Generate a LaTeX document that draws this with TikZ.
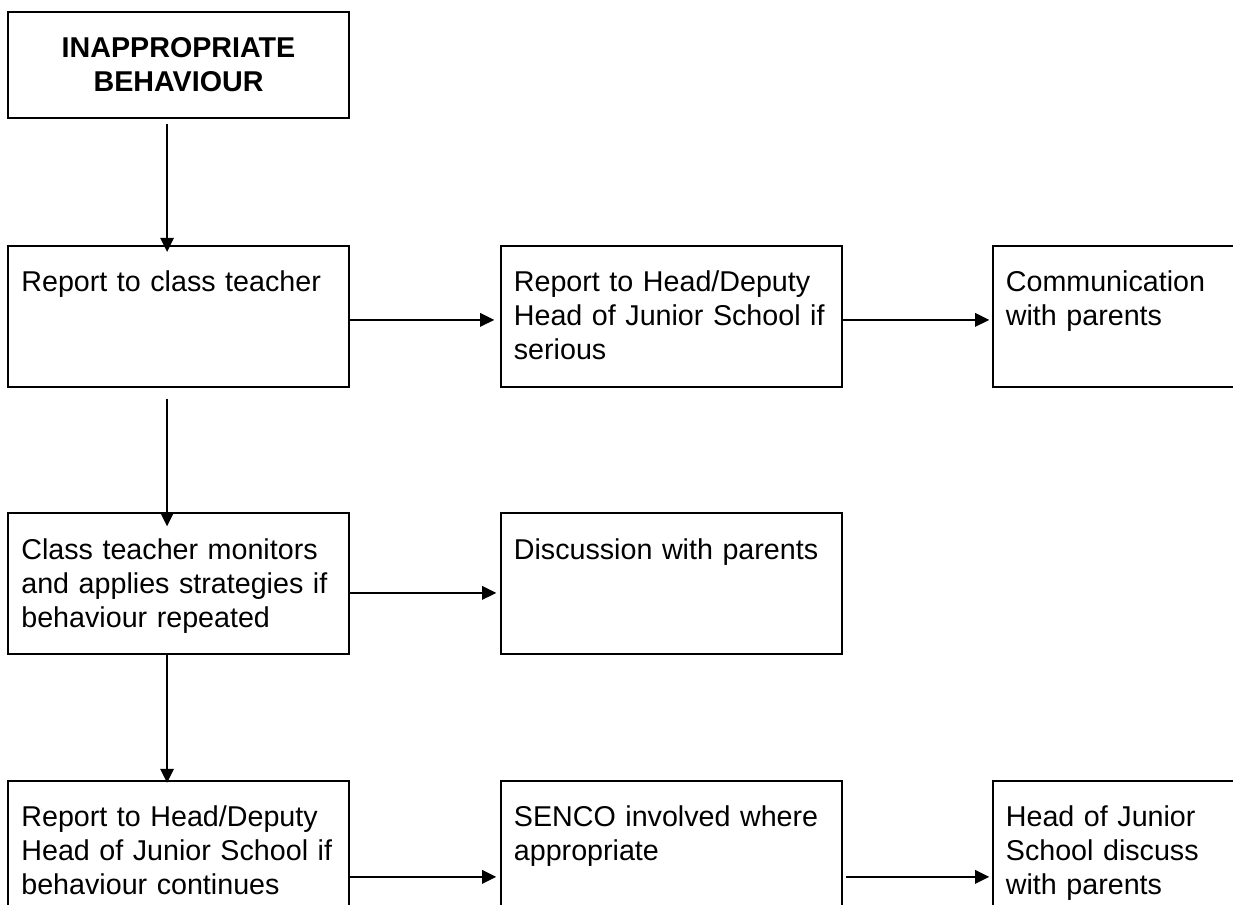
\documentclass[tikz,border=0pt]{standalone}
\usepackage{fontspec}
\setmainfont{Liberation Sans}
\usepackage{tikz}
\usetikzlibrary{arrows.meta,positioning}
\tikzset{%
    >={Triangle[length=10.5pt,width=10pt]},
    base/.style = {
        rectangle, draw=black, line width=1.5pt,
        font=\fontsize{21.5pt}{25.5pt}\selectfont
    },
    heading/.style = {
        base, minimum width=255.75pt, minimum height=79.5pt,
        text width=240pt, align=center,
        font=\fontsize{21.5pt}{25.5pt}\selectfont\bfseries
    },
    action/.style = {
        base, text width=235.75pt, align=left, inner xsep=10pt,
        inner ysep=18.5pt, text height=16pt, text depth=52.75pt
    },
}
\begin{document}
\begin{tikzpicture}[
        node distance=200.6pt,
        every node/.style={fill=white},
        line width=1.5pt
    ]
        \useasboundingbox (0,0) rectangle (924.75pt,-678.75pt);
        % Nodes position
        \node (start)         [heading] at (133.9pt,-48.75pt)
                                {INAPPROPRIATE\\BEHAVIOUR};
        \node (classTeacher)  [action, below of=start, yshift=12pt]
                                {Report to class teacher};
        \node (headSerious)   [action, right of=classTeacher, xshift=168.8pt]
                                {Report to Head/Deputy\\Head of Junior School if\\serious};
        \node (communication) [action, right of=headSerious, xshift=168.4pt]
                                {Communication\\with parents};

        \node (monitor)       [action, below of=classTeacher]
                                {Class teacher monitors\\and applies strategies if\\behaviour repeated};
        \node (discussion)    [action, right of=monitor, xshift=168.8pt]
                                {Discussion with parents};

        \node (headContinues) [action, below of=monitor]
                                {Report to Head/Deputy\\Head of Junior School if\\behaviour continues};
        \node (senco)         [action, right of=headContinues, xshift=168.8pt]
                                {SENCO involved where\\appropriate};
        \node (headDiscuss)   [action, right of=senco, xshift=168.4pt]
                                {Head of Junior\\School discuss\\with parents};
        % Arrow specification
        \draw[->, shorten <=3.75pt, shorten >=-5.25pt]
            ([xshift=-8.6pt]start.south) -- ([xshift=-8.6pt]classTeacher.north);
        \draw[->, shorten <=8.25pt, shorten >=-10.5pt]
            ([xshift=-8.6pt]classTeacher.south) -- ([xshift=-8.6pt]monitor.north);
        \draw[->, shorten >=-2.25pt]
            ([xshift=-8.6pt]monitor.south) -- ([xshift=-8.6pt]headContinues.north);
        \draw[->, shorten >=4pt]
            ([yshift=-2.6pt]classTeacher.east) -- ([yshift=-2.6pt]headSerious.west);
        \draw[->, shorten >=1.75pt]
            ([yshift=-2.6pt]headSerious.east) -- ([yshift=-2.6pt]communication.west);
        \draw[->, shorten >=2.5pt]
            ([yshift=-6.75pt]monitor.east) -- ([yshift=-6.75pt]discussion.west);
        \draw[->, shorten >=2.5pt]
            ([yshift=-19.1pt]headContinues.east) -- ([yshift=-19.1pt]senco.west);
        \draw[->, shorten <=2.5pt, shorten >=1.75pt]
            ([yshift=-19.1pt]senco.east) -- ([yshift=-19.1pt]headDiscuss.west);
    \end{tikzpicture}
\end{document}
